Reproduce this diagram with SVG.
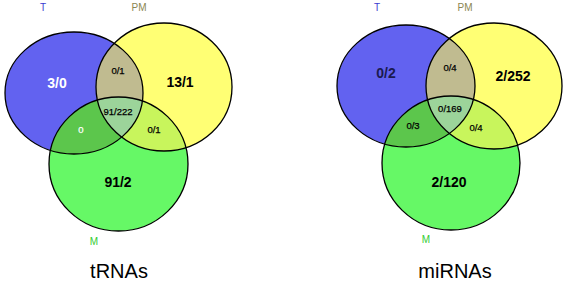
<svg xmlns="http://www.w3.org/2000/svg" width="567" height="282" viewBox="0 0 567 282">
<style>
text{font-family:"Liberation Sans",Arial,sans-serif;text-anchor:middle}
.big{font-size:14px;font-weight:bold}
.sm{font-size:9.5px;stroke:currentColor;stroke-width:0.25}
.lbl{font-size:10px}
.ttl{font-size:20px}
.ol{fill:none;stroke:#000;stroke-width:1.3}
.t{fill:#6262f0}.p{fill:#ffff74}.m{fill:#66f866}
.tp{fill:#c0bb90}.tm{fill:#5cc64c}.pm{fill:#c8f55c}.c{fill:#9cd49a}
</style>
<defs>
<ellipse id="T1" cx="74" cy="93" rx="69" ry="61"/>
<ellipse id="P1" cx="164" cy="87" rx="68" ry="64"/>
<ellipse id="M1" cx="118.5" cy="164" rx="69.5" ry="67"/>
<ellipse id="T2" cx="406" cy="86" rx="69" ry="61"/>
<ellipse id="P2" cx="494" cy="86" rx="68" ry="63"/>
<ellipse id="M2" cx="451" cy="163" rx="69" ry="67"/>
<clipPath id="cT1"><use href="#T1"/></clipPath>
<clipPath id="cP1"><use href="#P1"/></clipPath>
<clipPath id="cM1"><use href="#M1"/></clipPath>
<clipPath id="cT2"><use href="#T2"/></clipPath>
<clipPath id="cP2"><use href="#P2"/></clipPath>
<clipPath id="cM2"><use href="#M2"/></clipPath>
</defs>
<rect width="567" height="282" fill="#fff"/>
<g id="trnas">
<g id="fills1">
<use href="#T1" class="t"/>
<use href="#P1" class="p"/>
<use href="#M1" class="m"/>
<use href="#P1" class="tp" clip-path="url(#cT1)"/>
<use href="#M1" class="tm" clip-path="url(#cT1)"/>
<use href="#M1" class="pm" clip-path="url(#cP1)"/>
<g clip-path="url(#cT1)"><use href="#M1" class="c" clip-path="url(#cP1)"/></g>
</g>
<g id="T-set1"><use href="#T1" class="ol"/><text x="43" y="11" class="lbl" fill="#3a3ad0">T</text></g>
<g id="PM-set1"><use href="#P1" class="ol"/><text x="139" y="11" class="lbl" fill="#8b8650">PM</text></g>
<g id="M-set1"><use href="#M1" class="ol"/><text x="94" y="245" class="lbl" fill="#33cc33">M</text></g>
<text x="57" y="88" class="big" fill="#fff">3/0</text>
<text x="180" y="87" class="big">13/1</text>
<text x="118" y="187" class="big">91/2</text>
<text x="118" y="74" class="sm" color="#000">0/1</text>
<text x="118" y="115" class="sm" color="#000">91/222</text>
<text x="81" y="133" class="sm" color="#fff" fill="#fff">0</text>
<text x="154" y="133" class="sm" color="#000">0/1</text>
<text x="119" y="278" class="ttl">tRNAs</text>
</g>
<g id="mirnas">
<g id="fills2">
<use href="#T2" class="t"/>
<use href="#P2" class="p"/>
<use href="#M2" class="m"/>
<use href="#P2" class="tp" clip-path="url(#cT2)"/>
<use href="#M2" class="tm" clip-path="url(#cT2)"/>
<use href="#M2" class="pm" clip-path="url(#cP2)"/>
<g clip-path="url(#cT2)"><use href="#M2" class="c" clip-path="url(#cP2)"/></g>
</g>
<g id="T-set2"><use href="#T2" class="ol"/><text x="377" y="11" class="lbl" fill="#3a3ad0">T</text></g>
<g id="PM-set2"><use href="#P2" class="ol"/><text x="465" y="11" class="lbl" fill="#8b8650">PM</text></g>
<g id="M-set2"><use href="#M2" class="ol"/><text x="426" y="243" class="lbl" fill="#33cc33">M</text></g>
<text x="386" y="78" class="big" fill="#1a1a50">0/2</text>
<text x="513" y="81" class="big">2/252</text>
<text x="449" y="187" class="big">2/120</text>
<text x="450" y="71" class="sm" color="#000">0/4</text>
<text x="450" y="112" class="sm" color="#000">0/169</text>
<text x="413" y="129" class="sm" color="#000">0/3</text>
<text x="476" y="131" class="sm" color="#000">0/4</text>
<text x="455" y="278" class="ttl">miRNAs</text>
</g>
</svg>
